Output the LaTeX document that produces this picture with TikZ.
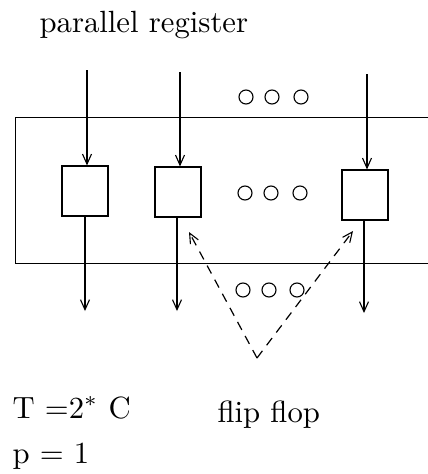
\documentclass[tikz,border=0pt]{standalone}
\usepackage{graphicx}
\usetikzlibrary{arrows.meta}
\newcommand{\bigtxt}[1]{\scalebox{3.07}{\fontsize{10}{12}\selectfont #1}}
\begin{document}
\begin{tikzpicture}[x=1pt,y=-1pt,
  line width=1.2pt,
  ff/.style={draw,minimum width=46pt,minimum height=50pt,inner sep=0pt,line width=1.2pt},
  dot/.style={draw,circle,minimum size=14pt,inner sep=0pt,line width=1.1pt},
  arr/.style={-{Straight Barb[length=10pt,width=9pt,line width=1.1pt]}},
  lbl/.style={inner sep=0pt,anchor=base west}]
\useasboundingbox (0,0) rectangle (428,474);
\begin{scope}
\clip (0,0) rectangle (428,474);
\node[lbl] (title) at (39,32) {\bigtxt{parallel register}};
\node[draw,line width=1.2pt,minimum width=440pt,minimum height=146pt,anchor=north west,inner sep=0pt] (reg) at (15,117) {};
\node[ff] (b1) at (85,191) {};
\node[ff] (b2) at (178,192) {};
\node[ff] (b3) at (365,195) {};
\coordinate (i1) at (87,70);
\coordinate (i2) at (180,72);
\coordinate (i3) at (367,74);
\coordinate (o1) at (85,311);
\coordinate (o2) at (177,311);
\coordinate (o3) at (364,313);
\draw[arr] (i1) -- (b1.north -| i1);
\draw[arr] (i2) -- (b2.north -| i2);
\draw[arr] (i3) -- (b3.north -| i3);
\draw[arr] (b1.south -| o1) -- (o1);
\draw[arr] (b2.south -| o2) -- (o2);
\draw[arr] (b3.south -| o3) -- (o3);
\node[dot] (t1) at (246,97) {};
\node[dot] (t2) at (272,97) {};
\node[dot] (t3) at (301,97) {};
\node[dot] (m1) at (245,193) {};
\node[dot] (m2) at (271,193) {};
\node[dot] (m3) at (300,193) {};
\node[dot] (l1) at (243,290) {};
\node[dot] (l2) at (269,290) {};
\node[dot] (l3) at (297,290) {};
\coordinate (apex) at (257,358);
\coordinate (tl) at (189,232);
\coordinate (tr) at (353,231);
\draw[arr,dash pattern=on 9pt off 7pt] (apex) -- (tl);
\draw[arr,dash pattern=on 9pt off 7pt] (apex) -- (tr);
\node[lbl] (T) at (12,418) {\bigtxt{T =2$^*$ C}};
\node[lbl] (ff) at (217,422) {\bigtxt{flip flop}};
\node[lbl] (p) at (12,463) {\bigtxt{p = 1}};
\end{scope}
\end{tikzpicture}
\end{document}
